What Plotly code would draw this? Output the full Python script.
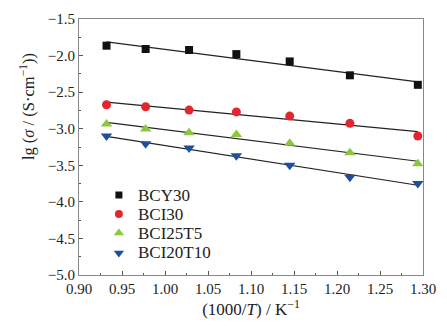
import numpy as np
import plotly.graph_objects as go

x_vals = [0.932, 0.9775, 1.028, 1.083, 1.145, 1.215, 1.294]
names = ["BCY30", "BCI30", "BCI25T5", "BCI20T10"]
bcy30 = [-1.865, -1.91, -1.924, -1.98, -2.08, -2.27, -2.40]
bci30 = [-2.672, -2.70, -2.745, -2.77, -2.827, -2.927, -3.10]
bci25t5 = [-2.935, -3.005, -3.055, -3.08, -3.20, -3.33, -3.48]
bci20t10 = [-3.10, -3.205, -3.265, -3.37, -3.50, -3.665, -3.75]
series = [bcy30, bci30, bci25t5, bci20t10]
colors = ["#111111", "#e3262d", "#8cc63f", "#1f4f9c"]
symbols = ["square", "circle", "triangle-up", "triangle-down"]
sizes = [8, 9, 10, 10]
legend_sizes = [7, 8, 9, 9]

fig = go.Figure()
xa = np.array(x_vals)
for name, ys in zip(names, series):
    k, b = np.polyfit(xa, np.array(ys), 1)
    xl = np.array([xa[0], xa[-1]])
    fig.add_trace(go.Scatter(x=xl, y=k * xl + b, mode="lines",
                             line=dict(color="#222222", width=1.2),
                             showlegend=False, hoverinfo="skip"))
for name, ys, c, s, sz in zip(names, series, colors, symbols, sizes):
    fig.add_trace(go.Scatter(x=x_vals, y=ys, mode="markers", name=name, showlegend=False,
                             marker=dict(color=c, symbol=s, size=sz, line=dict(width=0))))

# manual legend (compact row spacing) on an overlay axis in 0..1 units
font = "Liberation Serif, Times New Roman, serif"
leg_rows = [0.3125, 0.238, 0.164, 0.086]
for name, c, s, sz, ry in zip(names, colors, symbols, legend_sizes, leg_rows):
    fig.add_trace(go.Scatter(x=[0.116], y=[ry], mode="markers", xaxis="x2", yaxis="y2",
                             showlegend=False, hoverinfo="skip",
                             marker=dict(color=c, symbol=s, size=sz, line=dict(width=0))))
    fig.add_annotation(x=0.166, y=ry, xref="paper", yref="paper", text=name,
                       showarrow=False, xanchor="left", yanchor="middle",
                       font=dict(size=17, family=font, color="#222222"))

fig.add_annotation(x=-0.151, y=0.656, xref="paper", yref="paper",
                   text="lg (<i>σ</i> / (S·cm<sup>−1</sup>))", textangle=-90,
                   showarrow=False, xanchor="center", yanchor="middle",
                   font=dict(size=16.5, family=font, color="#222222"))

fig.update_layout(
    width=447, height=328,
    margin=dict(l=79, r=24, t=19, b=53),
    paper_bgcolor="white", plot_bgcolor="white",
    font=dict(family=font, size=15, color="#222222"),
    showlegend=False,
    xaxis2=dict(overlaying="x", range=[0, 1], visible=False),
    yaxis2=dict(overlaying="y", range=[0, 1], visible=False),
)
fig.update_layout(xaxis=dict(range=[0.90, 1.30], dtick=0.05, tickformat=".2f",
                 ticks="inside", ticklen=4, tickcolor="#555555",
                 minor=dict(ticks="inside", ticklen=2, dtick=0.025, tickcolor="#555555"),
                 showgrid=False, zeroline=False, showline=True, linecolor="#888888",
                 linewidth=1, mirror=True,
                 title=dict(text="(1000/<i>T</i>) / K<sup>−1</sup>", font=dict(size=17), standoff=4)))
fig.update_layout(yaxis=dict(range=[-5.0, -1.5], dtick=0.5, tickformat=".1f",
                 ticks="inside", ticklen=4, tickcolor="#555555",
                 minor=dict(ticks="inside", ticklen=2, dtick=0.25, tickcolor="#555555"),
                 showgrid=False, zeroline=False, showline=True, linecolor="#888888",
                 linewidth=1, mirror=True))

fig.write_html("out.html")
